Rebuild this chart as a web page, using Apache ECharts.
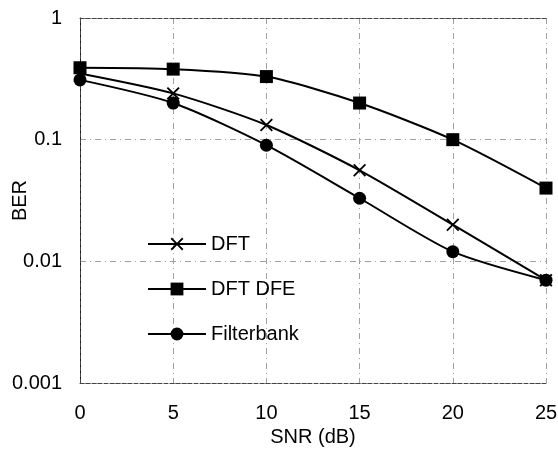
<!DOCTYPE html>
<html>
<head>
<meta charset="utf-8">
<script src="https://cdn.jsdelivr.net/npm/echarts@6/dist/echarts.min.js"></script>
<style>
  html, body { margin: 0; padding: 0; background: #fff; }
  #chart { width: 558px; height: 450px; }
</style>
</head>
<body>
<div id="chart"></div>
<script>
// 数据
const snr = [0, 5, 10, 15, 20, 25];
const berDft = [0.35, 0.24, 0.132, 0.056, 0.02, 0.007];
const berDftDfe = [0.39, 0.38, 0.33, 0.2, 0.1, 0.04];
const berFilterbank = [0.31, 0.2, 0.09, 0.033, 0.012, 0.007];
const yTickLabels = ["0.001", "0.01", "0.1", "1"];
const xTickLabels = ["0", "5", "10", "15", "20", "25"];

const FONT = "Liberation Sans, Arial, sans-serif";
const FS = 20;
const crossPath =
  "path://M0,1L1,0L5,4L9,0L10,1L6,5L10,9L9,10L5,6L1,10L0,9L4,5Z";

const pairs = (ys) => snr.map((x, i) => [x, ys[i]]);

const chart = echarts.init(document.getElementById("chart"));

const gridLine = {
  show: true,
  lineStyle: { color: "#a0a0a0", width: 1, type: [6, 4, 1, 4] },
};

const option = {
  animation: false,
  backgroundColor: "#fff",
  textStyle: { fontFamily: FONT, color: "#000" },
  grid: { left: 80, right: 12, top: 18, bottom: 67, outerBoundsMode: "none" },
  legend: {
    orient: "vertical",
    left: 142,
    top: 229,
    itemWidth: 58,
    itemHeight: 16,
    itemGap: 25,
    textStyle: { fontFamily: FONT, fontSize: FS, color: "#000" },
    data: ["DFT", "DFT DFE", "Filterbank"],
  },
  xAxis: [
    {
      type: "value",
      min: 0,
      max: 25,
      interval: 5,
      name: "SNR (dB)",
      nameLocation: "middle",
      nameGap: 44,
      nameMoveOverlap: false,
      nameTextStyle: { fontFamily: FONT, fontSize: FS, color: "#000" },
      axisLine: { lineStyle: { color: "#444", width: 1, type: "dashed" } },
      axisTick: { show: false },
      axisLabel: {
        margin: 20,
        fontFamily: FONT,
        fontSize: FS,
        color: "#000",
        formatter: (v) => xTickLabels[Math.round(v / 5)],
      },
      splitLine: gridLine,
    },
    {
      type: "value",
      position: "top",
      min: 0,
      max: 25,
      axisLine: { show: true, lineStyle: { color: "#444", width: 1, type: "dashed" } },
      axisTick: { show: false },
      axisLabel: { show: false },
      splitLine: { show: false },
    },
  ],
  yAxis: [
    {
      type: "log",
      logBase: 10,
      min: 0.001,
      max: 1,
      name: "BER",
      nameLocation: "middle",
      nameGap: 50,
      nameMoveOverlap: false,
      nameTextStyle: { fontFamily: FONT, fontSize: FS, color: "#000" },
      axisLine: { show: true, lineStyle: { color: "#000", width: 1 } },
      axisTick: { show: false },
      axisLabel: {
        margin: 18,
        fontFamily: FONT,
        fontSize: FS,
        color: "#000",
        formatter: (v, i) => yTickLabels[i],
      },
      splitLine: gridLine,
    },
    {
      type: "log",
      logBase: 10,
      position: "right",
      min: 0.001,
      max: 1,
      axisLine: { show: true, lineStyle: { color: "#444", width: 1, type: "dashed" } },
      axisTick: { show: false },
      axisLabel: { show: false },
      splitLine: { show: false },
    },
  ],
  series: [
    {
      name: "DFT",
      type: "line",
      smooth: 0.25,
      data: pairs(berDft),
      symbol: crossPath,
      symbolSize: 13,
      lineStyle: { color: "#000", width: 2 },
      itemStyle: { color: "#000" },
      z: 3,
    },
    {
      name: "DFT DFE",
      type: "line",
      smooth: 0.25,
      data: pairs(berDftDfe),
      symbol: "rect",
      symbolSize: 13,
      lineStyle: { color: "#000", width: 2 },
      itemStyle: { color: "#000" },
      z: 3,
    },
    {
      name: "Filterbank",
      type: "line",
      smooth: 0.25,
      data: pairs(berFilterbank),
      symbol: "circle",
      symbolSize: 13,
      lineStyle: { color: "#000", width: 2 },
      itemStyle: { color: "#000" },
      z: 3,
    },
  ],
};

chart.setOption(option);
</script>
</body>
</html>
